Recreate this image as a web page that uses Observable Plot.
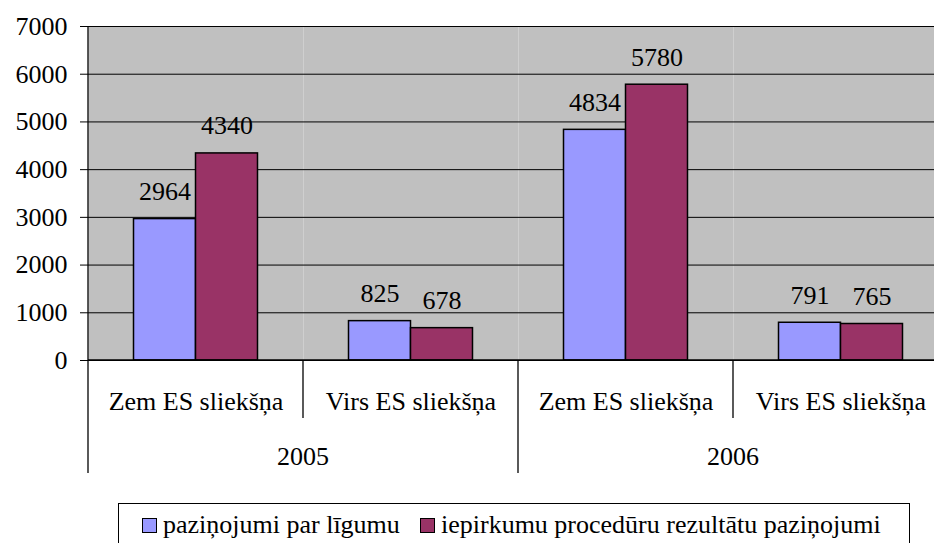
<!DOCTYPE html>
<html>
<head>
<meta charset="utf-8">
<script src="https://cdn.jsdelivr.net/npm/d3@7"></script>
<script src="https://cdn.jsdelivr.net/npm/@observablehq/plot@0.6"></script>
</head>
<body style="margin:0;font-size:26px;font-family:'Liberation Serif'">
<div id="wrap" style="position:relative;width:934px;height:543px;overflow:hidden;font-family:'Liberation Serif'">
<div id="chart"></div>
<div id="legend" style="position:absolute;left:118px;top:503px;width:792px;height:60px;border:1.5px solid #000;box-sizing:border-box;font-size:26px;color:#000;font-family:'Liberation Serif'"></div>
</div>
<script>
const years = ["2005", "2005", "2006", "2006"];
const thresholds = ["Zem ES sliekšņa", "Virs ES sliekšņa", "Zem ES sliekšņa", "Virs ES sliekšņa"];
const seriesNames = ["paziņojumi par līgumu", "iepirkumu procedūru rezultātu paziņojumi"];
const contractNotices = [2964, 825, 4834, 791];
const resultNotices = [4340, 678, 5780, 765];
const yTicks = [0, 1000, 2000, 3000, 4000, 5000, 6000, 7000];
const colors = ["#9999ff", "#993366"];

const groups = years.map((y, i) => y + " " + thresholds[i]);
const data = [];
groups.forEach((g, i) => {
  data.push({group: g, year: years[i], cat: thresholds[i], series: seriesNames[0], value: contractNotices[i]});
  data.push({group: g, year: years[i], cat: thresholds[i], series: seriesNames[1], value: resultNotices[i]});
});
const groupData = groups.map((g, i) => ({group: g, cat: thresholds[i], year: years[i]}));

const plot = Plot.plot({
  width: 948,
  height: 495,
  marginLeft: 88,
  marginRight: 0,
  marginTop: 26,
  marginBottom: 135,
  style: {fontFamily: "Liberation Serif", fontSize: "26px"},
  fx: {domain: groups, padding: 0, round: false, axis: null, label: null},
  x: {domain: seriesNames, paddingInner: 0, paddingOuter: 0.734, round: false, axis: null, label: null},
  y: {domain: [0, 7000], label: null},
  color: {domain: seriesNames, range: colors},
  marks: [
    Plot.frame({fill: "#c0c0c0", stroke: null}),
    Plot.ruleY(yTicks, {stroke: "#000", strokeWidth: 1}),
    Plot.barY(data, {fx: "group", x: "series", y: "value", fill: "series", stroke: "#000", strokeWidth: 1.5}),
    Plot.text(data, {fx: "group", x: "series", y: "value", text: d => String(d.value), dy: -19, lineAnchor: "bottom", fontSize: 26, fill: "#000"}),
    Plot.text(groupData, {fx: "group", text: "cat", frameAnchor: "bottom", dy: 49, lineAnchor: "bottom", fontSize: 26, fill: "#000"}),
    Plot.axisY(yTicks, {anchor: "left", tickSize: 8, tickPadding: 13, tickFormat: d => String(d), fontSize: 26, label: null, stroke: "#000"})
  ]
});
plot.style.maxWidth = "none";
plot.style.overflow = "visible";
document.getElementById("chart").appendChild(plot);

// axis lines and category separators, positioned through the plot's own scales
const fx = plot.scale("fx");
const ys = plot.scale("y");
const svg = d3.select(plot);
const y0 = ys.apply(0);
const yTop = ys.apply(7000);
const left = fx.apply(groups[0]);
const g = svg.append("g").attr("stroke", "#000").attr("stroke-width", 1.3);
g.append("line").attr("x1", left).attr("x2", 948).attr("y1", y0).attr("y2", y0);
g.append("line").attr("x1", left).attr("x2", left).attr("y1", yTop).attr("y2", y0 + 113);
groups.forEach((grp, i) => {
  if (i === 0) return;
  const x = fx.apply(grp);
  const isYearBoundary = years[i] !== years[i - 1];
  g.append("line").attr("x1", x).attr("x2", x).attr("y1", y0).attr("y2", y0 + (isYearBoundary ? 113 : 58));
});
// year labels
const uniqYears = [...new Set(years)];
uniqYears.forEach(yr => {
  const idx = years.map((y, i) => y === yr ? i : -1).filter(i => i >= 0);
  const x1 = fx.apply(groups[idx[0]]);
  const x2 = fx.apply(groups[idx[idx.length - 1]]) + fx.bandwidth;
  svg.append("text").attr("x", (x1 + x2) / 2).attr("y", y0 + 105)
    .attr("text-anchor", "middle").attr("font-size", 26).attr("fill", "#000").text(yr);
});

// legend
const legend = document.getElementById("legend");
const offsets = [23, 301];
seriesNames.forEach((s, i) => {
  const it = document.createElement("div");
  it.style.fontFamily = "'Liberation Serif'";
  Object.assign(it.style, {position: "absolute", top: "6px", left: offsets[i] + "px", whiteSpace: "nowrap", display: "flex", alignItems: "center"});
  const sw = document.createElement("span");
  Object.assign(sw.style, {width: "13px", height: "13px", border: "1.5px solid #000", marginRight: "6px", display: "inline-block", background: colors[i]});
  const t = document.createElement("span");
  t.style.fontFamily = "'Liberation Serif'";
  t.textContent = s;
  it.appendChild(sw);
  it.appendChild(t);
  legend.appendChild(it);
});
</script>
</body>
</html>
